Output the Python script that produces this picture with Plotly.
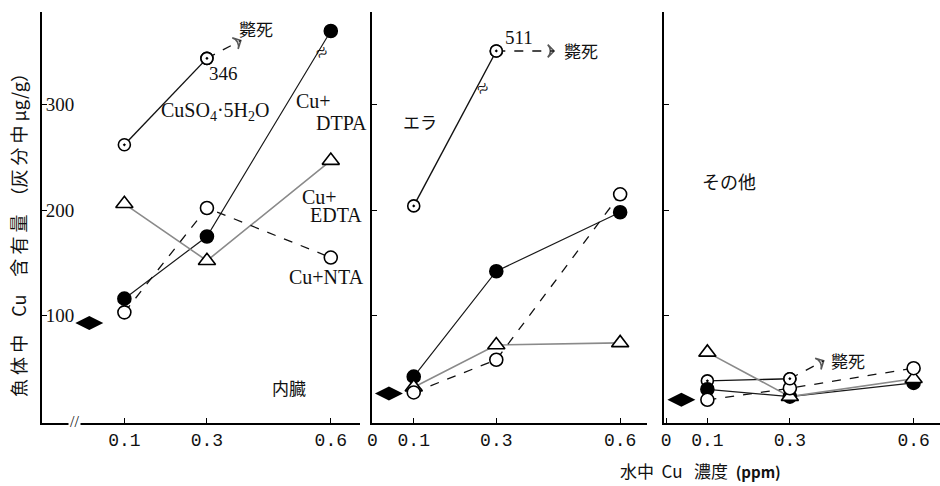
import plotly.graph_objects as go

# ---------------- data ----------------
conc = [0.1, 0.3, 0.6]                 # 水中 Cu 濃度 (ppm)
conc_dead = [0.1, 0.3]                 # CuSO4 series stops (fish died)
x_tick_vals_1 = [-0.1, 0.1, 0.3, 0.6]  # panel 1 has an axis break after 0
x_tick_vals = [0.0, 0.1, 0.3, 0.6]
x_tick_text = ["0", "0.1", "0.3", "0.6"]
y_tick_vals = [100, 200, 300]
y_tick_text = ["100", "200", "300"]

panels = ["内臓", "エラ", "その他"]

cuso4 = {"内臓": [262, 344], "エラ": [204, 351], "その他": [38, 40]}
dtpa = {"内臓": [116, 175, 370], "エラ": [42, 142, 198], "その他": [30, 23, 36]}
edta = {"内臓": [206, 152, 247], "エラ": [32, 72, 74], "その他": [65, 23, 40]}
nta = {"内臓": [103, 202, 155], "エラ": [27, 58, 215], "その他": [20, 31, 50]}
control = {"内臓": 93, "エラ": 26, "その他": 20}

# ---------------- layout constants ----------------
W, H = 940, 486
SERIF = "Liberation Serif"
JP = "Noto Sans CJK JP"
control_pos = [0.015, 0.04, 0.037]
x_ranges = [[-0.1, 0.671], [-0.001, 0.664], [-0.004, 0.664]]
x_domains = [[37 / W, 357 / W], [369 / W, 645 / W], [663 / W, 1.0]]
y_domain = [1 - 423 / H, 1 - 12 / H]
y_range = [-2, 388]

fig = go.Figure()

styles = {
    "cuso4": dict(color="#111", dash="solid", width=1.4, symbol="circle-dot", size=12),
    "dtpa": dict(color="#1a1a1a", dash="solid", width=1.2, symbol="circle", size=13),
    "edta": dict(color="#8a8a8a", dash="solid", width=1.6, symbol="triangle-up", size=15),
    "nta": dict(color="#111", dash="dash", width=1.3, symbol="circle", size=13),
}
series = [("cuso4", cuso4, conc_dead), ("dtpa", dtpa, conc), ("edta", edta, conc), ("nta", nta, conc)]

for i, organ in enumerate(panels):
    xa = "x" if i == 0 else f"x{i+1}"
    ya = "y" if i == 0 else f"y{i+1}"
    for name, data, xs in series:
        st = styles[name]
        fig.add_trace(go.Scatter(x=xs, y=data[organ], mode="lines", xaxis=xa, yaxis=ya,
                                 line=dict(color=st["color"], dash=st["dash"], width=st["width"]),
                                 showlegend=False, hoverinfo="skip"))
    for name, data, xs in series:
        st = styles[name]
        fill = "black" if name == "dtpa" else "white"
        fig.add_trace(go.Scatter(x=xs, y=data[organ], mode="markers", xaxis=xa, yaxis=ya,
                                 marker=dict(symbol=st["symbol"], size=st["size"], color=fill,
                                             line=dict(color="black", width=1.6)),
                                 showlegend=False, hoverinfo="skip"))
    fig.add_trace(go.Scatter(x=[control_pos[i]], y=[control[organ]], mode="markers",
                             xaxis=xa, yaxis=ya,
                             marker=dict(symbol="diamond-wide", size=20, color="black"),
                             showlegend=False, hoverinfo="skip"))

# dashed arrows to 斃死 (death)
arrow_ends = [(0.382, 361), (0.44, 351), (0.382, 57)]
for i, organ in enumerate(panels):
    xa = "x" if i == 0 else f"x{i+1}"
    ya = "y" if i == 0 else f"y{i+1}"
    ex, ey = arrow_ends[i]
    fig.add_trace(go.Scatter(x=[conc_dead[-1], ex], y=[cuso4[organ][-1], ey], mode="lines+markers",
                             xaxis=xa, yaxis=ya,
                             line=dict(color="#111", dash="dash", width=1.3),
                             marker=dict(symbol="arrow-wide-open", size=[0, 9], angleref="previous",
                                         color="#111", line=dict(color="#111", width=1.6)),
                             showlegend=False, hoverinfo="skip"))
    fig.add_trace(go.Scatter(x=[conc_dead[-1]], y=[cuso4[organ][-1]], mode="markers", xaxis=xa, yaxis=ya,
                             marker=dict(symbol="circle-dot", size=12, color="white",
                                         line=dict(color="black", width=1.6)),
                             showlegend=False, hoverinfo="skip"))

axis_common = dict(showgrid=False, zeroline=False, showline=True, linecolor="black", linewidth=1.6,
                   ticks="inside", ticklen=5, tickcolor="black")

layout = dict(width=W, height=H, margin=dict(l=0, r=0, t=0, b=0),
              paper_bgcolor="white", plot_bgcolor="white", showlegend=False)
for i in range(3):
    k = "" if i == 0 else str(i + 1)
    layout[f"xaxis{k}"] = dict(axis_common, domain=x_domains[i], range=x_ranges[i],
                               anchor=f"y{k}",
                               tickvals=x_tick_vals_1 if i == 0 else x_tick_vals,
                               ticktext=x_tick_text,
                               tickfont=dict(family="Liberation Mono", size=18, color="#111"))
    layout[f"yaxis{k}"] = dict(axis_common, domain=y_domain, range=y_range, anchor=f"x{k}",
                               tickvals=y_tick_vals, ticktext=y_tick_text,
                               showticklabels=(i == 0), ticklabelposition="inside",
                               tickfont=dict(family=SERIF, size=19, color="#111"))
fig.update_layout(**layout)


def ann(text, x, y, xref="x", yref="y", size=19, family=SERIF, **kw):
    kw.setdefault("xanchor", "center")
    kw.setdefault("yanchor", "middle")
    fig.add_annotation(text=text, x=x, y=y, xref=xref, yref=yref, showarrow=False,
                       font=dict(family=family, size=size, color="#111"), **kw)


# panel 1 texts
ann("斃死", 0.42, 372, family=JP, size=17)
ann("346", 0.341, 330)
ann("CuSO<sub>4</sub>·5H<sub>2</sub>O", 0.32, 294, size=20)
ann("Cu+", 0.51, 304, xanchor="left", size=20)
ann("DTPA", 0.56, 283, xanchor="left", size=20)
ann("Cu+", 0.525, 212, xanchor="left", size=20)
ann("EDTA", 0.545, 195, xanchor="left", size=20)
ann("Cu+NTA", 0.495, 137, xanchor="left", size=20)
ann("内臓", 0.498, 32, family=JP, size=17)
ann("//", -0.02, -1, size=16, bgcolor="white")
ann("≈", 0.577, 350, size=20, textangle=-30)
# panel 2 texts
ann("511", 0.355, 364, xref="x2", yref="y2")
ann("斃死", 0.505, 351, xref="x2", yref="y2", family=JP, size=17)
ann("エラ", 0.115, 284, xref="x2", yref="y2", family=JP, size=17)
ann("≈", 0.266, 316, xref="x2", yref="y2", size=20, textangle=-30)
# panel 3 texts
ann("その他", 0.152, 228, xref="x3", yref="y3", family=JP, size=18)
ann("斃死", 0.44, 57, xref="x3", yref="y3", family=JP, size=17)

# axis titles
ann("魚 体 中　Cu　含 有 量　（灰 分 中 μg/g）", 13 / W, 1 - 230 / H, xref="paper", yref="paper",
    family=JP, size=18, textangle=-90)
ann("水中&nbsp;&nbsp;Cu&nbsp;&nbsp;&nbsp;濃度&nbsp;&nbsp;<b style='font-size:15px'>(ppm)</b>",
    699 / W, 1 - 470 / H, xref="paper", yref="paper", family=JP, size=17)

fig.write_html("out.html", config={"displayModeBar": False},
               post_script="document.body.style.margin='0px';")
